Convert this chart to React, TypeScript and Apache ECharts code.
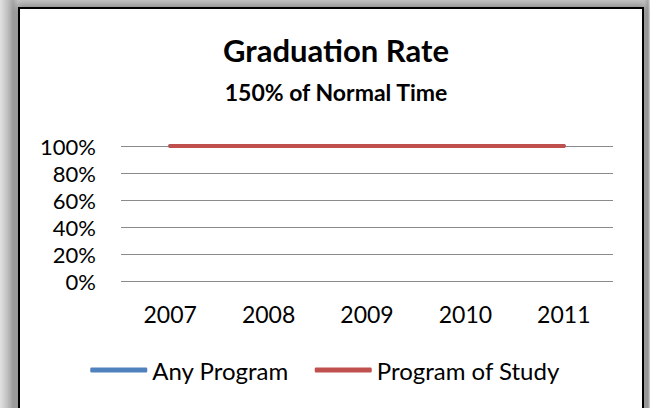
import React, { useEffect, useRef } from "react";
import * as echarts from "echarts";

const years = ["2007", "2008", "2009", "2010", "2011"];
const anyProgram = [1, 1, 1, 1, 1];
const programOfStudy = [1, 1, 1, 1, 1];
const titleText = "Graduation Rate";
const subtitleText = "150% of Normal Time";
const FONT = "Lato, 'Noto Sans', sans-serif";

export default function App() {
  const ref = useRef<HTMLDivElement>(null);
  useEffect(() => {
    if (!ref.current) return;
    const chart = echarts.init(ref.current, undefined, { renderer: "svg" });
    chart.setOption({
      animation: false,
      textStyle: { fontFamily: FONT },
      title: [
        {
          text: titleText,
          left: 331,
          top: 29,
          textAlign: "center",
          textStyle: { fontSize: 31, fontWeight: "bold", color: "#000", fontFamily: FONT },
        },
        {
          text: subtitleText,
          left: 331,
          top: 75,
          textAlign: "center",
          textStyle: { fontSize: 23, fontWeight: "bold", color: "#000", fontFamily: FONT },
        },
      ],
      legend: {
        top: 353,
        left: "center",
        icon: "roundRect",
        itemWidth: 57,
        itemHeight: 5,
        itemGap: 26,
        textStyle: { fontSize: 24, color: "#000", fontFamily: FONT },
        data: ["Any Program", "Program of Study"],
      },
      grid: { left: 121, right: 37, top: 146, bottom: 127 },
      xAxis: {
        type: "category",
        data: years,
        boundaryGap: true,
        axisLine: { show: false },
        axisTick: { show: false },
        axisLabel: { fontSize: 23, color: "#000", margin: 21, fontFamily: FONT },
      },
      yAxis: {
        type: "value",
        min: 0,
        max: 1,
        interval: 0.2,
        axisLine: { show: false },
        axisTick: { show: false },
        axisLabel: {
          fontSize: 22,
          color: "#000",
          margin: 25,
          fontFamily: FONT,
          formatter: (v: number) => Math.round(v * 100) + "%",
        },
        splitLine: { lineStyle: { color: "#8a8a8a", width: 1 } },
      },
      series: [
        {
          name: "Any Program",
          type: "line",
          data: anyProgram,
          showSymbol: false,
          symbol: "none",
          lineStyle: { color: "#4F81BD", width: 4, cap: "round" },
          itemStyle: { color: "#4F81BD" },
        },
        {
          name: "Program of Study",
          type: "line",
          data: programOfStudy,
          showSymbol: false,
          symbol: "none",
          lineStyle: { color: "#C0504D", width: 4, cap: "round" },
          itemStyle: { color: "#C0504D" },
        },
      ],
    });
    return () => chart.dispose();
  }, []);

  return (
    <div
      style={{
        position: "fixed",
        left: 0,
        top: 0,
        width: 650,
        height: 408,
        overflow: "hidden",
        background: "linear-gradient(to right, #e2e2e2 0px, #a8a8a8 13px, #c8c8c8 18px, #c8c8c8 644px, #a8a8a8 648px, #e2e2e2 650px)",
      }}
    >
      <div
        style={{
          position: "absolute",
          left: 18,
          top: 7,
          width: 622,
          height: 420,
          background: "#fff",
          border: "2px solid #000",
          boxShadow: "0 0 8px 2px rgba(0,0,0,0.35)",
        }}
      />
      <div ref={ref} style={{ position: "absolute", left: 0, top: 0, width: 650, height: 408 }} />
    </div>
  );
}
